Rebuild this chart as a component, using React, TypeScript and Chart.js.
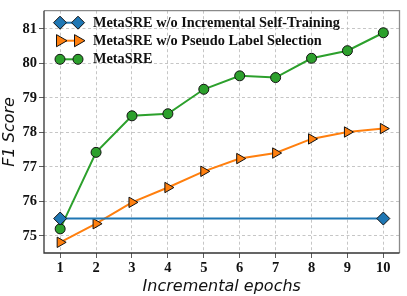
import React, { useEffect, useRef } from "react";
import { Chart, registerables } from "chart.js";

Chart.register(...registerables);

const epochs = [1, 2, 3, 4, 5, 6, 7, 8, 9, 10];
const noIncrementalX = [1, 10];
const noIncrementalY = [75.5, 75.5];
const noPseudoY = [74.81, 75.35, 75.97, 76.4, 76.87, 77.24, 77.4, 77.81, 78.01, 78.11];
const metaSREY = [75.2, 77.42, 78.48, 78.54, 79.25, 79.64, 79.59, 80.15, 80.37, 80.89];
const xTicks = [1, 2, 3, 4, 5, 6, 7, 8, 9, 10];
const yTicks = [75, 76, 77, 78, 79, 80, 81];
const seriesLabels = [
  "MetaSRE w/o Incremental Self-Training",
  "MetaSRE w/o Pseudo Label Selection",
  "MetaSRE",
];

const BLUE = "#1f77b4";
const ORANGE = "#ff7f0e";
const GREEN = "#2ca02c";

function drawMarker(ctx: CanvasRenderingContext2D, style: string, x: number, y: number, r: number, color: string) {
  ctx.save();
  ctx.fillStyle = color;
  ctx.strokeStyle = "#111";
  ctx.lineWidth = 1;
  ctx.beginPath();
  if (style === "rectRot") {
    ctx.moveTo(x, y - r);
    ctx.lineTo(x + r, y);
    ctx.lineTo(x, y + r);
    ctx.lineTo(x - r, y);
    ctx.closePath();
  } else if (style === "tri") {
    ctx.moveTo(x + r, y);
    ctx.lineTo(x - r * 0.5, y - r * 0.866);
    ctx.lineTo(x - r * 0.5, y + r * 0.866);
    ctx.closePath();
  } else {
    ctx.arc(x, y, r, 0, Math.PI * 2);
  }
  ctx.fill();
  ctx.stroke();
  ctx.restore();
}

const framePlugin = {
  id: "frameLegend",
  afterDraw(chart: any) {
    const { ctx, chartArea } = chart;
    const { left, right, top, bottom } = chartArea;
    ctx.save();
    ctx.setLineDash([]);
    ctx.lineWidth = 1.3;
    ctx.strokeStyle = "#8a8a8a";
    ctx.beginPath();
    ctx.moveTo(left, top);
    ctx.lineTo(right, top);
    ctx.lineTo(right, bottom);
    ctx.stroke();
    ctx.strokeStyle = "#333";
    ctx.beginPath();
    ctx.moveTo(left, top);
    ctx.lineTo(left, bottom);
    ctx.lineTo(right, bottom);
    ctx.stroke();
    const items = [
      { c: BLUE, s: "rectRot", r: 6.5 },
      { c: ORANGE, s: "tri", r: 7 },
      { c: GREEN, s: "circle", r: 5 },
    ];
    const x0 = 60, x1 = 78;
    const ys = [22.7, 40.7, 59.3];
    items.forEach((it, i) => {
      const y = ys[i];
      ctx.strokeStyle = it.c;
      ctx.lineWidth = 2;
      ctx.beginPath();
      ctx.moveTo(x0, y);
      ctx.lineTo(x1, y);
      ctx.stroke();
      drawMarker(ctx, it.s, x0, y, it.r, it.c);
      drawMarker(ctx, it.s, x1, y, it.r, it.c);
      ctx.fillStyle = "#111";
      ctx.font = "bold 14.3px 'Liberation Serif'";
      ctx.textBaseline = "middle";
      ctx.textAlign = "left";
      ctx.fillText(seriesLabels[i], 93, y + 0.5);
    });
    ctx.restore();
  },
};

const gridOpts = { color: "#b8b8b8", lineWidth: 0.8, tickColor: "#333", tickLength: 5, borderDash: [3, 2.5], tickBorderDash: [] };
const borderOpts = { display: false, dash: [3, 2.5] };
const tickFont = { family: "'Liberation Serif'", size: 14.5, weight: "bold" };
const titleFont = { family: "'DejaVu Sans'", size: 16, style: "italic" };

export default function App() {
  const ref = useRef<HTMLCanvasElement>(null);
  useEffect(() => {
    document.body.style.margin = "0";
    const chart = new Chart(ref.current!, {
      type: "line",
      data: {
        datasets: [
          {
            label: seriesLabels[0],
            data: noIncrementalX.map((x, i) => ({ x, y: noIncrementalY[i] })),
            borderColor: BLUE,
            backgroundColor: BLUE,
            borderWidth: 2,
            pointStyle: "rectRot",
            pointRadius: 6.5,
            pointBorderColor: "#111",
            pointBorderWidth: 1,
          },
          {
            label: seriesLabels[1],
            data: epochs.map((x, i) => ({ x, y: noPseudoY[i] })),
            borderColor: ORANGE,
            backgroundColor: ORANGE,
            borderWidth: 2,
            pointStyle: "triangle",
            pointRotation: 90,
            pointRadius: 6,
            pointBorderColor: "#111",
            pointBorderWidth: 1,
          },
          {
            label: seriesLabels[2],
            data: epochs.map((x, i) => ({ x, y: metaSREY[i] })),
            borderColor: GREEN,
            backgroundColor: GREEN,
            borderWidth: 2,
            pointStyle: "circle",
            pointRadius: 5,
            pointBorderColor: "#111",
            pointBorderWidth: 1,
          },
        ],
      },
      options: {
        animation: false,
        responsive: false,
        layout: { padding: { top: 4, right: 4, left: 0, bottom: 0 } },
        plugins: { legend: { display: false }, tooltip: { enabled: false } },
        scales: {
          x: {
            type: "linear",
            min: 0.55,
            max: 10.45,
            afterBuildTicks: (s: any) => { s.ticks = xTicks.map((v) => ({ value: v })); },
            afterFit: (s: any) => { s.height = 43; },
            border: borderOpts,
            grid: gridOpts,
            ticks: { color: "#111", font: tickFont, padding: 2, maxRotation: 0, autoSkip: false },
            title: { display: true, text: "Incremental epochs", color: "#111", font: titleFont, padding: { top: 1, bottom: 0 } },
          },
          y: {
            type: "linear",
            min: 74.5,
            max: 81.53,
            afterBuildTicks: (s: any) => { s.ticks = yTicks.map((v) => ({ value: v })); },
            afterFit: (s: any) => { s.width = 44; },
            border: borderOpts,
            grid: gridOpts,
            ticks: { color: "#111", font: tickFont, padding: 2 },
            title: { display: true, text: "F1 Score", color: "#111", font: titleFont, padding: { top: 0, bottom: 0 } },
          },
        },
      } as any,
      plugins: [framePlugin],
    });
    return () => chart.destroy();
  }, []);
  return <canvas ref={ref} width={407} height={296} style={{ display: "block" }} />;
}
